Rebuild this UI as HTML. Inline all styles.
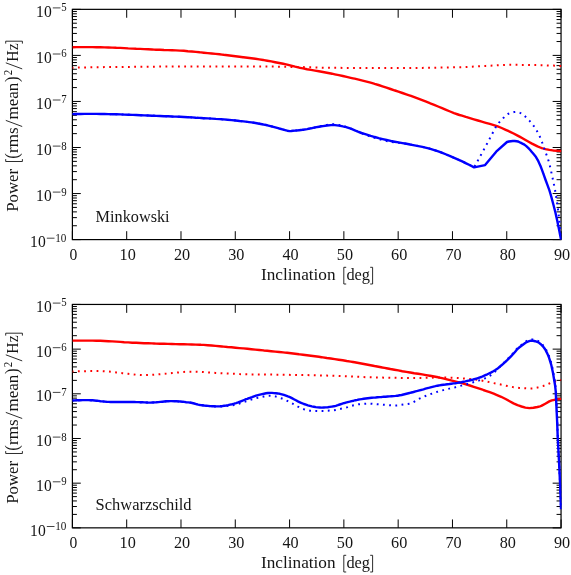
<!DOCTYPE html>
<html><head><meta charset="utf-8"><title>Power vs inclination</title>
<style>html,body{margin:0;padding:0;background:#fff;}body{width:571px;height:575px;overflow:hidden;font-family:"Liberation Serif",serif;}svg{display:block;will-change:transform;}</style></head>
<body>
<svg width="571" height="575" viewBox="0 0 571 575" font-family="'Liberation Serif', serif" fill="#151515">
<rect width="571" height="575" fill="#fff"/>
<defs>
<clipPath id="ct"><rect x="71.90" y="8.85" width="489.65" height="231.25"/></clipPath>
<clipPath id="cb"><rect x="71.90" y="303.95" width="489.65" height="224.40"/></clipPath>
</defs>
<path d="M72.40,239.6v-8.4M72.40,9.35v8.4M126.69,239.6v-8.4M126.69,9.35v8.4M180.99,239.6v-8.4M180.99,9.35v8.4M235.28,239.6v-8.4M235.28,9.35v8.4M289.58,239.6v-8.4M289.58,9.35v8.4M343.87,239.6v-8.4M343.87,9.35v8.4M398.17,239.6v-8.4M398.17,9.35v8.4M452.46,239.6v-8.4M452.46,9.35v8.4M506.76,239.6v-8.4M506.76,9.35v8.4M561.05,239.6v-8.4M561.05,9.35v8.4M72.4,9.35h8.4M561.05,9.35h-8.4M72.4,55.40h8.4M561.05,55.40h-8.4M72.4,101.45h8.4M561.05,101.45h-8.4M72.4,147.50h8.4M561.05,147.50h-8.4M72.4,193.55h8.4M561.05,193.55h-8.4M72.4,239.60h8.4M561.05,239.60h-8.4" stroke="#000" stroke-width="1.0" fill="none"/>
<path d="M72.4,41.54h4.5M561.05,41.54h-4.5M72.4,33.43h4.5M561.05,33.43h-4.5M72.4,27.68h4.5M561.05,27.68h-4.5M72.4,23.21h4.5M561.05,23.21h-4.5M72.4,19.57h4.5M561.05,19.57h-4.5M72.4,16.48h4.5M561.05,16.48h-4.5M72.4,13.81h4.5M561.05,13.81h-4.5M72.4,11.46h4.5M561.05,11.46h-4.5M72.4,87.59h4.5M561.05,87.59h-4.5M72.4,79.48h4.5M561.05,79.48h-4.5M72.4,73.73h4.5M561.05,73.73h-4.5M72.4,69.26h4.5M561.05,69.26h-4.5M72.4,65.62h4.5M561.05,65.62h-4.5M72.4,62.53h4.5M561.05,62.53h-4.5M72.4,59.86h4.5M561.05,59.86h-4.5M72.4,57.51h4.5M561.05,57.51h-4.5M72.4,133.64h4.5M561.05,133.64h-4.5M72.4,125.53h4.5M561.05,125.53h-4.5M72.4,119.78h4.5M561.05,119.78h-4.5M72.4,115.31h4.5M561.05,115.31h-4.5M72.4,111.67h4.5M561.05,111.67h-4.5M72.4,108.58h4.5M561.05,108.58h-4.5M72.4,105.91h4.5M561.05,105.91h-4.5M72.4,103.56h4.5M561.05,103.56h-4.5M72.4,179.69h4.5M561.05,179.69h-4.5M72.4,171.58h4.5M561.05,171.58h-4.5M72.4,165.83h4.5M561.05,165.83h-4.5M72.4,161.36h4.5M561.05,161.36h-4.5M72.4,157.72h4.5M561.05,157.72h-4.5M72.4,154.63h4.5M561.05,154.63h-4.5M72.4,151.96h4.5M561.05,151.96h-4.5M72.4,149.61h4.5M561.05,149.61h-4.5M72.4,225.74h4.5M561.05,225.74h-4.5M72.4,217.63h4.5M561.05,217.63h-4.5M72.4,211.88h4.5M561.05,211.88h-4.5M72.4,207.41h4.5M561.05,207.41h-4.5M72.4,203.77h4.5M561.05,203.77h-4.5M72.4,200.68h4.5M561.05,200.68h-4.5M72.4,198.01h4.5M561.05,198.01h-4.5M72.4,195.66h4.5M561.05,195.66h-4.5" stroke="#000" stroke-width="1.0" fill="none"/>
<rect x="72.4" y="9.35" width="488.65" height="230.25" fill="none" stroke="#000" stroke-width="1.2"/>
<path d="M72.6,47.2 L76.6,47.1 L80.5,47.1 L84.5,47.1 L88.5,47.1 L91.0,47.1 L92.5,47.1 L96.4,47.2 L100.4,47.2 L104.4,47.4 L108.4,47.5 L112.0,47.6 L112.3,47.6 L116.3,47.8 L120.3,47.9 L124.3,48.1 L128.2,48.4 L132.2,48.6 L133.0,48.6 L136.2,48.8 L140.1,48.9 L144.1,49.1 L148.1,49.3 L152.1,49.5 L154.0,49.6 L156.0,49.7 L160.0,49.8 L164.0,50.0 L168.0,50.1 L171.9,50.2 L175.9,50.4 L179.9,50.6 L180.0,50.6 L183.8,50.8 L187.8,51.2 L191.8,51.5 L195.8,51.9 L199.7,52.3 L201.0,52.4 L203.7,52.7 L207.7,53.1 L211.7,53.5 L215.6,53.9 L219.6,54.3 L222.0,54.6 L223.6,54.8 L227.6,55.2 L231.5,55.7 L235.5,56.2 L239.5,56.7 L243.0,57.2 L243.4,57.3 L247.4,57.8 L251.4,58.3 L255.4,58.8 L259.3,59.4 L263.3,60.0 L264.0,60.1 L267.3,60.7 L271.3,61.4 L275.2,62.2 L279.2,63.0 L283.2,63.8 L285.0,64.2 L287.2,64.7 L291.1,65.7 L295.1,66.7 L299.1,67.6 L300.0,67.8 L303.0,68.4 L307.0,69.2 L311.0,69.9 L311.0,69.9 L315.0,70.6 L318.9,71.3 L322.9,72.0 L326.9,72.7 L330.9,73.5 L332.0,73.7 L334.8,74.3 L338.8,75.1 L342.8,76.0 L346.7,76.9 L350.7,77.8 L353.0,78.3 L354.7,78.7 L358.7,79.6 L362.6,80.6 L366.6,81.6 L370.6,82.7 L374.0,83.6 L374.6,83.8 L378.5,85.0 L382.5,86.3 L386.5,87.6 L390.5,89.0 L394.4,90.3 L395.0,90.5 L398.4,91.6 L402.4,93.0 L406.3,94.3 L410.0,95.6 L410.3,95.7 L414.3,97.2 L418.3,98.7 L422.2,100.2 L426.2,101.7 L429.8,103.1 L430.2,103.3 L434.2,104.8 L438.1,106.5 L442.1,108.2 L446.1,109.9 L450.1,111.5 L454.0,113.1 L458.0,114.5 L459.5,115.0 L462.0,115.7 L465.0,116.6 L465.9,116.9 L469.9,118.1 L473.9,119.3 L477.9,120.5 L481.8,121.7 L482.5,121.9 L485.8,122.8 L489.8,123.9 L493.8,125.1 L496.2,125.9 L497.7,126.4 L501.7,128.0 L505.7,129.8 L508.8,131.2 L509.6,131.6 L513.6,133.5 L517.6,135.6 L521.0,137.4 L521.6,137.7 L525.5,140.0 L529.5,142.3 L531.5,143.4 L533.5,144.4 L537.5,146.4 L541.4,148.0 L542.0,148.2 L545.4,149.1 L549.4,149.9 L552.6,150.4 L553.4,150.5 L557.3,150.8 L561.3,151.0" fill="none" stroke="#ff0000" stroke-width="2.4" stroke-linejoin="round" clip-path="url(#ct)"/>
<path d="M72.6,67.7 L76.6,67.6 L80.5,67.5 L84.5,67.5 L88.5,67.4 L92.5,67.3 L96.4,67.2 L100.0,67.2 L100.4,67.2 L104.4,67.1 L108.4,67.1 L112.3,67.1 L116.3,67.0 L120.3,67.0 L124.2,66.9 L128.2,66.9 L132.2,66.9 L136.2,66.8 L140.0,66.8 L140.1,66.8 L144.1,66.8 L148.1,66.7 L152.0,66.7 L156.0,66.7 L160.0,66.6 L164.0,66.6 L167.9,66.6 L171.9,66.6 L175.9,66.5 L179.9,66.5 L183.8,66.5 L185.0,66.5 L187.8,66.5 L191.8,66.5 L195.7,66.5 L199.7,66.5 L203.7,66.4 L207.7,66.4 L211.6,66.4 L215.6,66.4 L219.6,66.4 L223.5,66.4 L227.5,66.4 L231.5,66.4 L235.5,66.4 L239.4,66.4 L240.0,66.4 L243.4,66.4 L247.4,66.4 L251.4,66.4 L255.3,66.5 L259.3,66.5 L263.3,66.5 L267.2,66.6 L271.2,66.6 L275.2,66.6 L279.2,66.7 L283.1,66.8 L287.1,66.8 L291.1,66.9 L295.1,66.9 L299.0,67.0 L300.0,67.0 L303.0,67.1 L307.0,67.2 L310.9,67.3 L314.9,67.4 L318.9,67.6 L322.9,67.7 L326.8,67.8 L330.0,67.8 L330.8,67.8 L334.8,67.8 L338.7,67.8 L342.7,67.9 L346.7,67.9 L350.7,67.9 L354.6,67.9 L358.6,67.9 L362.6,67.9 L366.6,68.0 L370.5,68.0 L374.5,68.0 L378.5,68.0 L382.4,68.0 L386.4,68.0 L390.4,68.0 L394.4,68.0 L398.3,68.0 L400.0,68.0 L402.3,68.0 L406.3,68.0 L410.3,68.0 L414.2,67.9 L418.2,67.9 L422.2,67.9 L426.1,67.8 L430.1,67.8 L434.1,67.7 L438.1,67.6 L442.0,67.6 L446.0,67.5 L450.0,67.4 L453.9,67.3 L457.9,67.2 L459.5,67.2 L461.9,67.1 L465.9,67.0 L469.8,66.8 L473.8,66.6 L477.8,66.3 L481.8,66.1 L485.7,65.9 L489.0,65.7 L489.7,65.7 L493.7,65.5 L497.6,65.3 L501.6,65.1 L505.6,64.9 L509.6,64.8 L513.0,64.8 L513.5,64.8 L517.5,64.8 L521.5,64.9 L525.4,64.9 L529.4,65.0 L533.4,65.1 L537.4,65.1 L540.0,65.2 L541.3,65.2 L545.3,65.3 L549.3,65.5 L553.3,65.6 L557.2,65.8 L561.2,66.0" fill="none" stroke="#ff0000" stroke-width="2.0" stroke-linejoin="round" stroke-dasharray="1.8 4.454" stroke-dashoffset="0.9" clip-path="url(#ct)"/>
<path d="M72.6,114.1 L76.6,114.0 L80.6,114.0 L84.5,113.9 L88.5,113.9 L91.0,113.9 L92.5,113.9 L96.5,113.9 L100.4,114.0 L104.4,114.0 L108.4,114.1 L112.0,114.2 L112.4,114.2 L116.3,114.3 L120.3,114.4 L124.3,114.6 L128.3,114.7 L132.2,114.9 L133.0,114.9 L136.2,115.0 L140.2,115.2 L144.2,115.4 L148.1,115.5 L152.1,115.7 L154.0,115.8 L156.1,115.9 L160.1,116.0 L164.0,116.2 L168.0,116.3 L172.0,116.5 L176.0,116.6 L179.9,116.8 L180.0,116.8 L183.9,117.0 L187.9,117.2 L191.9,117.4 L195.8,117.7 L199.8,117.9 L201.0,118.0 L203.8,118.2 L207.8,118.4 L211.7,118.6 L215.7,118.9 L219.7,119.1 L222.0,119.3 L223.7,119.4 L227.6,119.8 L231.6,120.1 L235.6,120.5 L239.6,121.0 L243.5,121.4 L247.5,121.9 L249.0,122.1 L251.5,122.4 L255.5,123.0 L259.4,123.7 L263.4,124.5 L264.0,124.6 L267.4,125.3 L271.4,126.3 L275.3,127.4 L279.0,128.4 L279.3,128.5 L283.3,129.6 L286.0,130.3 L287.3,130.7 L289.6,131.1 L291.2,131.0 L293.0,130.8 L295.2,130.6 L299.2,130.2 L302.6,129.8 L303.2,129.7 L307.1,129.1 L311.1,128.3 L315.1,127.4 L319.1,126.7 L321.5,126.3 L323.0,126.1 L327.0,125.5 L331.0,125.1 L333.0,125.0 L335.0,125.1 L338.9,125.6 L342.9,126.4 L344.6,126.7 L346.9,127.3 L350.9,128.7 L354.8,130.3 L358.8,132.0 L361.5,133.0 L362.8,133.4 L366.8,134.7 L370.7,135.9 L374.0,136.8 L374.7,137.0 L378.7,138.1 L382.7,139.1 L386.6,140.0 L390.6,140.9 L391.0,141.0 L394.6,141.7 L398.6,142.4 L402.5,143.1 L406.5,143.8 L410.0,144.5 L410.5,144.6 L414.5,145.4 L418.4,146.1 L422.4,146.9 L426.4,147.8 L429.8,148.7 L430.4,148.9 L434.3,150.1 L438.3,151.4 L442.3,152.9 L446.3,154.5 L450.2,156.2 L453.6,157.6 L454.2,157.9 L458.2,159.6 L462.2,161.4 L466.1,163.3 L470.1,165.3 L474.1,167.4 L485.1,165.1 L496.2,151.7 L507.0,142.0 L508.9,141.5 L510.9,141.2 L512.8,141.0 L514.0,141.0 L514.7,141.0 L516.7,141.3 L517.9,141.5 L518.6,141.7 L520.0,142.5 L520.5,142.7 L522.4,143.6 L523.9,144.3 L524.4,144.6 L526.3,146.1 L527.9,147.6 L528.2,147.9 L530.2,150.0 L531.8,151.9 L532.1,152.3 L534.0,154.6 L536.0,157.1 L536.9,158.6 L537.9,160.3 L539.8,164.4 L540.5,166.0 L541.7,169.2 L543.6,174.4 L543.7,174.6 L545.6,180.0 L545.6,180.0 L547.5,185.2 L549.5,190.7 L550.2,193.0 L551.4,197.1 L553.3,204.2 L555.3,212.0 L557.2,220.5 L559.1,229.7 L561.0,239.6" fill="none" stroke="#0000ff" stroke-width="2.4" stroke-linejoin="round" clip-path="url(#ct)"/>
<path d="M72.6,114.1 L76.6,114.0 L80.6,114.0 L84.5,113.9 L88.5,113.9 L91.0,113.9 L92.5,113.9 L96.5,113.9 L100.4,114.0 L104.4,114.0 L108.4,114.1 L112.0,114.2 L112.4,114.2 L116.3,114.3 L120.3,114.4 L124.3,114.6 L128.3,114.7 L132.2,114.9 L133.0,114.9 L136.2,115.0 L140.2,115.2 L144.2,115.4 L148.1,115.5 L152.1,115.7 L154.0,115.8 L156.1,115.9 L160.1,116.0 L164.0,116.2 L168.0,116.3 L172.0,116.5 L176.0,116.6 L179.9,116.8 L180.0,116.8 L183.9,117.0 L187.9,117.2 L191.9,117.4 L195.8,117.7 L199.8,117.9 L201.0,118.0 L203.8,118.2 L207.8,118.4 L211.7,118.6 L215.7,118.9 L219.7,119.1 L222.0,119.3 L223.7,119.4 L227.6,119.8 L231.6,120.1 L235.6,120.5 L239.6,121.0 L243.5,121.4 L247.5,121.9 L249.0,122.1 L251.5,122.4 L255.5,123.0 L259.4,123.7 L263.4,124.5 L264.0,124.6 L267.4,125.3 L271.4,126.3 L275.3,127.4 L279.0,128.4 L279.3,128.5 L283.3,129.6 L286.0,130.3 L287.3,130.7 L289.6,131.1 L291.2,131.0 L293.0,130.8 L295.2,130.6 L299.2,130.2 L302.6,129.8 L303.2,129.7 L307.1,129.1 L311.1,128.3 L315.1,127.4 L319.1,126.6 L321.5,126.0 L323.0,125.7 L327.0,124.9 L331.0,124.4 L333.0,124.3 L335.0,124.4 L338.9,125.0 L342.9,126.0 L344.6,126.5 L346.9,127.2 L350.9,128.7 L354.8,130.3 L358.8,132.1 L361.5,133.2 L362.8,133.7 L366.8,135.3 L370.7,136.6 L374.0,137.7 L374.7,137.9 L378.7,139.0 L382.7,140.1 L386.6,141.0 L390.6,141.7 L391.0,141.8 L394.6,142.3 L398.6,142.8 L402.5,143.2 L406.5,143.8 L410.0,144.5 L410.5,144.6 L414.5,145.4 L418.4,146.1 L422.4,146.9 L426.4,147.8 L429.8,148.7 L430.4,148.9 L434.3,150.1 L438.3,151.4 L442.3,152.9 L446.3,154.5 L450.2,156.2 L453.6,157.6 L454.2,157.9 L458.2,159.6 L462.2,161.4 L466.1,163.3 L470.1,165.3 L474.1,167.4 L485.1,147.3 L496.2,126.3 L498.2,123.7 L500.1,121.3 L502.1,119.2 L504.1,117.3 L504.4,117.0 L506.0,115.5 L508.0,114.0 L509.7,113.1 L510.0,113.0 L511.9,112.5 L513.9,112.1 L515.8,111.9 L515.9,111.9 L517.8,112.2 L519.8,112.8 L521.7,113.6 L521.9,113.7 L523.7,115.0 L525.7,116.9 L526.3,117.5 L527.6,118.8 L529.6,120.9 L530.7,122.2 L531.6,123.2 L533.5,125.7 L534.5,127.1 L535.5,128.6 L537.5,132.0 L539.4,135.8 L540.3,137.7 L541.4,140.4 L543.4,146.0 L544.7,149.9 L545.3,151.6 L547.3,156.9 L548.7,161.3 L549.3,163.3 L551.2,171.8 L552.0,175.3 L553.2,180.8 L555.2,190.7 L555.2,191.0 L557.1,202.7 L558.5,213.0 L559.1,218.2 L561.0,239.6" fill="none" stroke="#0000ff" stroke-width="2.0" stroke-linejoin="round" stroke-dasharray="1.8 4.450" stroke-dashoffset="0.9" clip-path="url(#ct)"/>
<text x="36.1" y="16.9" font-size="17.2" textLength="15.6" lengthAdjust="spacingAndGlyphs">10</text>
<path d="M52.8,7.9H60.5" stroke="#151515" stroke-width="0.8"/>
<text x="61.2" y="11.3" font-size="11.5" textLength="5.4" lengthAdjust="spacingAndGlyphs">5</text>
<text x="36.1" y="63.0" font-size="17.2" textLength="15.6" lengthAdjust="spacingAndGlyphs">10</text>
<path d="M52.8,54.0H60.5" stroke="#151515" stroke-width="0.8"/>
<text x="61.2" y="57.4" font-size="11.5" textLength="5.4" lengthAdjust="spacingAndGlyphs">6</text>
<text x="36.1" y="109.0" font-size="17.2" textLength="15.6" lengthAdjust="spacingAndGlyphs">10</text>
<path d="M52.8,100.0H60.5" stroke="#151515" stroke-width="0.8"/>
<text x="61.2" y="103.4" font-size="11.5" textLength="5.4" lengthAdjust="spacingAndGlyphs">7</text>
<text x="36.1" y="155.1" font-size="17.2" textLength="15.6" lengthAdjust="spacingAndGlyphs">10</text>
<path d="M52.8,146.1H60.5" stroke="#151515" stroke-width="0.8"/>
<text x="61.2" y="149.5" font-size="11.5" textLength="5.4" lengthAdjust="spacingAndGlyphs">8</text>
<text x="36.1" y="201.1" font-size="17.2" textLength="15.6" lengthAdjust="spacingAndGlyphs">10</text>
<path d="M52.8,192.1H60.5" stroke="#151515" stroke-width="0.8"/>
<text x="61.2" y="195.5" font-size="11.5" textLength="5.4" lengthAdjust="spacingAndGlyphs">9</text>
<text x="30.1" y="247.2" font-size="17.2" textLength="15.6" lengthAdjust="spacingAndGlyphs">10</text>
<path d="M46.8,238.2H54.5" stroke="#151515" stroke-width="0.8"/>
<text x="55.2" y="241.6" font-size="11.5" textLength="11.2" lengthAdjust="spacingAndGlyphs">10</text>
<text x="73.4" y="260.3" font-size="17.4" text-anchor="middle" textLength="7.8" lengthAdjust="spacingAndGlyphs">0</text>
<text x="127.7" y="260.3" font-size="17.4" text-anchor="middle" textLength="16.2" lengthAdjust="spacingAndGlyphs">10</text>
<text x="182.0" y="260.3" font-size="17.4" text-anchor="middle" textLength="16.2" lengthAdjust="spacingAndGlyphs">20</text>
<text x="236.3" y="260.3" font-size="17.4" text-anchor="middle" textLength="16.2" lengthAdjust="spacingAndGlyphs">30</text>
<text x="290.6" y="260.3" font-size="17.4" text-anchor="middle" textLength="16.2" lengthAdjust="spacingAndGlyphs">40</text>
<text x="344.9" y="260.3" font-size="17.4" text-anchor="middle" textLength="16.2" lengthAdjust="spacingAndGlyphs">50</text>
<text x="399.2" y="260.3" font-size="17.4" text-anchor="middle" textLength="16.2" lengthAdjust="spacingAndGlyphs">60</text>
<text x="453.5" y="260.3" font-size="17.4" text-anchor="middle" textLength="16.2" lengthAdjust="spacingAndGlyphs">70</text>
<text x="507.8" y="260.3" font-size="17.4" text-anchor="middle" textLength="16.2" lengthAdjust="spacingAndGlyphs">80</text>
<text x="562.0" y="260.3" font-size="17.4" text-anchor="middle" textLength="16.2" lengthAdjust="spacingAndGlyphs">90</text>
<g transform="translate(261,279.6)"><text x="0.0" y="0.0" font-size="17" textLength="74.6" lengthAdjust="spacingAndGlyphs">Inclination</text><text x="85.4" y="0.0" font-size="17" textLength="23.6" lengthAdjust="spacingAndGlyphs">deg</text><path d="M85.2,-12.3H82.8V4.4H85.2M109.2,-12.3H111.6V4.4H109.2" fill="none" stroke="#151515" stroke-width="0.9"/></g>
<g transform="translate(18.0,211.8) rotate(-90)"><text x="0.0" y="0.0" font-size="17" textLength="42.8" lengthAdjust="spacingAndGlyphs">Power</text><text x="53.0" y="0.4" font-size="18" textLength="5.6" lengthAdjust="spacingAndGlyphs">(</text><text x="58.9" y="0.0" font-size="17" textLength="25.4" lengthAdjust="spacingAndGlyphs">rms</text><text x="92.3" y="0.0" font-size="17" textLength="36.6" lengthAdjust="spacingAndGlyphs">mean</text><text x="129.9" y="0.4" font-size="18" textLength="5.6" lengthAdjust="spacingAndGlyphs">)</text><text x="136.6" y="-5.8" font-size="11.5" textLength="5.4" lengthAdjust="spacingAndGlyphs">2</text><text x="150.1" y="0.0" font-size="17" textLength="18.4" lengthAdjust="spacingAndGlyphs">Hz</text><path d="M52.7,-12.3H50.3V4.4H52.7M85.3,4.2L91.4,-12.2M142.9,4.2L149.0,-12.2M168.2,-12.3H170.6V4.4H168.2" fill="none" stroke="#151515" stroke-width="0.9"/></g>
<text x="95.6" y="221.8" font-size="17" textLength="74" lengthAdjust="spacingAndGlyphs">Minkowski</text>
<path d="M72.40,527.85v-8.4M72.40,304.45v8.4M126.69,527.85v-8.4M126.69,304.45v8.4M180.99,527.85v-8.4M180.99,304.45v8.4M235.28,527.85v-8.4M235.28,304.45v8.4M289.58,527.85v-8.4M289.58,304.45v8.4M343.87,527.85v-8.4M343.87,304.45v8.4M398.17,527.85v-8.4M398.17,304.45v8.4M452.46,527.85v-8.4M452.46,304.45v8.4M506.76,527.85v-8.4M506.76,304.45v8.4M561.05,527.85v-8.4M561.05,304.45v8.4M72.4,304.45h8.4M561.05,304.45h-8.4M72.4,349.13h8.4M561.05,349.13h-8.4M72.4,393.81h8.4M561.05,393.81h-8.4M72.4,438.49h8.4M561.05,438.49h-8.4M72.4,483.17h8.4M561.05,483.17h-8.4M72.4,527.85h8.4M561.05,527.85h-8.4" stroke="#000" stroke-width="1.0" fill="none"/>
<path d="M72.4,335.68h4.5M561.05,335.68h-4.5M72.4,327.81h4.5M561.05,327.81h-4.5M72.4,322.23h4.5M561.05,322.23h-4.5M72.4,317.90h4.5M561.05,317.90h-4.5M72.4,314.36h4.5M561.05,314.36h-4.5M72.4,311.37h4.5M561.05,311.37h-4.5M72.4,308.78h4.5M561.05,308.78h-4.5M72.4,306.49h4.5M561.05,306.49h-4.5M72.4,380.36h4.5M561.05,380.36h-4.5M72.4,372.49h4.5M561.05,372.49h-4.5M72.4,366.91h4.5M561.05,366.91h-4.5M72.4,362.58h4.5M561.05,362.58h-4.5M72.4,359.04h4.5M561.05,359.04h-4.5M72.4,356.05h4.5M561.05,356.05h-4.5M72.4,353.46h4.5M561.05,353.46h-4.5M72.4,351.17h4.5M561.05,351.17h-4.5M72.4,425.04h4.5M561.05,425.04h-4.5M72.4,417.17h4.5M561.05,417.17h-4.5M72.4,411.59h4.5M561.05,411.59h-4.5M72.4,407.26h4.5M561.05,407.26h-4.5M72.4,403.72h4.5M561.05,403.72h-4.5M72.4,400.73h4.5M561.05,400.73h-4.5M72.4,398.14h4.5M561.05,398.14h-4.5M72.4,395.85h4.5M561.05,395.85h-4.5M72.4,469.72h4.5M561.05,469.72h-4.5M72.4,461.85h4.5M561.05,461.85h-4.5M72.4,456.27h4.5M561.05,456.27h-4.5M72.4,451.94h4.5M561.05,451.94h-4.5M72.4,448.40h4.5M561.05,448.40h-4.5M72.4,445.41h4.5M561.05,445.41h-4.5M72.4,442.82h4.5M561.05,442.82h-4.5M72.4,440.53h4.5M561.05,440.53h-4.5M72.4,514.40h4.5M561.05,514.40h-4.5M72.4,506.53h4.5M561.05,506.53h-4.5M72.4,500.95h4.5M561.05,500.95h-4.5M72.4,496.62h4.5M561.05,496.62h-4.5M72.4,493.08h4.5M561.05,493.08h-4.5M72.4,490.09h4.5M561.05,490.09h-4.5M72.4,487.50h4.5M561.05,487.50h-4.5M72.4,485.21h4.5M561.05,485.21h-4.5" stroke="#000" stroke-width="1.0" fill="none"/>
<rect x="72.4" y="304.45" width="488.65" height="223.40" fill="none" stroke="#000" stroke-width="1.2"/>
<path d="M72.6,340.6 L76.6,340.6 L80.5,340.6 L84.5,340.6 L88.5,340.6 L91.0,340.6 L92.5,340.6 L96.4,340.7 L100.4,340.8 L104.4,341.0 L108.4,341.2 L112.0,341.4 L112.3,341.4 L116.3,341.6 L120.3,341.9 L124.2,342.2 L128.2,342.4 L132.2,342.7 L133.0,342.7 L136.2,342.8 L140.1,343.0 L144.1,343.2 L148.1,343.3 L152.0,343.4 L154.0,343.5 L156.0,343.6 L160.0,343.7 L164.0,343.8 L167.9,343.9 L171.9,344.0 L175.9,344.1 L179.9,344.2 L180.0,344.2 L183.8,344.3 L187.8,344.4 L191.8,344.5 L195.7,344.6 L199.7,344.7 L201.0,344.8 L203.7,344.9 L207.7,345.2 L211.6,345.5 L215.6,345.9 L219.6,346.3 L222.0,346.5 L223.5,346.6 L227.5,347.0 L231.5,347.3 L235.5,347.7 L239.4,348.1 L243.0,348.4 L243.4,348.4 L247.4,348.8 L251.4,349.2 L255.3,349.6 L259.3,350.0 L263.3,350.4 L264.0,350.5 L267.2,350.8 L271.2,351.2 L275.2,351.6 L279.2,352.0 L283.1,352.4 L285.0,352.6 L287.1,352.8 L291.1,353.3 L295.1,353.8 L299.0,354.3 L300.0,354.4 L303.0,354.8 L307.0,355.3 L310.9,355.8 L314.9,356.3 L318.9,356.8 L321.5,357.2 L322.9,357.4 L326.8,358.0 L330.8,358.5 L334.8,359.1 L338.7,359.7 L342.7,360.3 L346.7,361.0 L350.7,361.6 L353.0,362.0 L354.6,362.3 L358.6,363.0 L362.6,363.7 L366.6,364.5 L370.5,365.2 L374.5,366.0 L378.5,366.7 L382.4,367.5 L384.6,367.9 L386.4,368.2 L390.4,369.0 L394.4,369.7 L398.3,370.4 L402.3,371.2 L406.3,371.9 L410.0,372.5 L410.3,372.5 L414.2,373.2 L418.2,373.8 L422.2,374.4 L426.1,375.1 L429.8,375.7 L430.1,375.8 L434.1,376.5 L438.1,377.3 L442.0,378.2 L446.0,379.1 L450.0,380.1 L453.9,381.1 L457.9,382.1 L459.5,382.5 L461.9,383.2 L465.9,384.3 L469.8,385.5 L473.8,386.8 L477.8,388.1 L481.8,389.4 L483.4,390.0 L485.7,390.8 L489.7,392.2 L493.7,393.7 L497.6,395.3 L501.2,396.8 L501.6,397.0 L505.6,399.0 L509.6,401.2 L513.5,403.4 L517.5,405.2 L519.0,405.7 L521.5,406.5 L525.4,407.6 L529.4,408.1 L529.5,408.1 L533.4,407.8 L537.4,407.0 L540.0,406.3 L541.3,405.9 L545.3,403.7 L549.3,401.4 L551.8,400.4 L553.3,400.1 L557.2,399.3 L561.2,398.9" fill="none" stroke="#ff0000" stroke-width="2.4" stroke-linejoin="round" clip-path="url(#cb)"/>
<path d="M72.6,371.5 L76.6,371.4 L80.5,371.3 L84.5,371.2 L88.5,371.1 L92.5,371.1 L96.4,371.1 L100.4,371.1 L101.5,371.1 L104.4,371.2 L108.4,371.5 L112.3,371.9 L116.3,372.5 L120.3,373.0 L122.5,373.2 L124.2,373.4 L128.2,373.8 L132.2,374.3 L136.2,374.7 L140.1,375.0 L143.6,375.1 L144.1,375.1 L148.1,375.0 L152.0,374.8 L156.0,374.5 L160.0,374.2 L164.0,373.8 L164.6,373.8 L167.9,373.5 L171.9,373.1 L175.9,372.7 L179.9,372.3 L183.8,371.9 L187.8,371.7 L190.0,371.7 L191.8,371.7 L195.7,371.8 L199.7,371.9 L203.7,372.1 L207.7,372.4 L211.6,372.6 L215.6,372.9 L219.6,373.1 L222.0,373.2 L223.5,373.3 L227.5,373.5 L231.5,373.7 L235.5,373.9 L239.4,374.1 L243.0,374.2 L243.4,374.2 L247.4,374.3 L251.4,374.4 L255.3,374.4 L259.3,374.5 L263.3,374.5 L267.2,374.6 L271.2,374.6 L275.2,374.7 L279.2,374.7 L283.1,374.8 L287.1,374.8 L291.1,374.9 L295.1,374.9 L299.0,375.0 L300.0,375.0 L303.0,375.1 L307.0,375.1 L310.9,375.2 L314.9,375.3 L318.9,375.4 L322.9,375.5 L326.8,375.6 L330.8,375.7 L332.0,375.7 L334.8,375.8 L338.7,375.9 L342.7,376.1 L346.7,376.3 L350.7,376.5 L354.6,376.7 L358.6,376.8 L362.6,377.0 L366.6,377.2 L370.5,377.3 L374.0,377.4 L374.5,377.4 L378.5,377.5 L382.4,377.6 L386.4,377.7 L390.4,377.8 L394.4,377.8 L398.3,377.9 L402.3,378.0 L406.3,378.0 L410.0,378.0 L410.3,378.0 L414.2,378.0 L418.2,377.9 L422.2,377.9 L426.1,377.8 L430.1,377.7 L434.1,377.6 L438.1,377.5 L442.0,377.5 L444.7,377.5 L446.0,377.5 L450.0,377.6 L453.9,377.8 L457.9,378.0 L461.9,378.3 L465.9,378.7 L469.8,379.0 L473.8,379.4 L474.4,379.5 L477.8,379.9 L481.8,380.6 L485.7,381.4 L489.7,382.2 L493.7,383.1 L497.6,383.9 L498.2,384.0 L501.6,384.7 L505.6,385.6 L509.6,386.4 L513.5,387.2 L517.5,387.8 L519.0,387.9 L521.5,388.1 L525.4,388.3 L529.4,388.5 L531.0,388.5 L533.4,388.4 L537.4,387.6 L541.3,386.5 L542.9,386.1 L545.3,385.2 L549.3,383.5 L551.8,382.5 L553.3,382.1 L557.2,381.0 L561.2,380.1" fill="none" stroke="#ff0000" stroke-width="2.0" stroke-linejoin="round" stroke-dasharray="1.8 4.420" stroke-dashoffset="0.9" clip-path="url(#cb)"/>
<path d="M72.6,400.5 L74.6,400.4 L76.6,400.3 L78.6,400.2 L80.6,400.2 L82.6,400.1 L84.6,400.1 L86.6,400.1 L87.0,400.1 L88.5,400.1 L90.5,400.2 L92.5,400.3 L94.5,400.5 L96.5,400.7 L98.5,400.9 L100.5,401.2 L102.5,401.4 L104.5,401.6 L106.5,401.8 L108.5,401.9 L110.5,402.0 L112.0,402.0 L112.5,402.0 L114.5,402.0 L116.5,402.0 L118.5,402.0 L120.4,402.0 L122.4,402.0 L124.4,402.0 L126.4,402.0 L128.4,402.0 L130.4,402.0 L132.4,402.0 L133.0,402.0 L134.4,402.0 L136.4,402.1 L138.4,402.1 L140.4,402.2 L142.4,402.3 L144.4,402.4 L146.4,402.5 L148.4,402.6 L150.0,402.6 L150.4,402.6 L152.3,402.5 L154.3,402.4 L156.3,402.3 L158.3,402.1 L160.3,401.9 L162.3,401.7 L164.3,401.5 L166.3,401.3 L168.3,401.2 L170.3,401.1 L171.0,401.1 L172.3,401.1 L174.3,401.2 L176.3,401.3 L178.3,401.4 L180.3,401.5 L182.3,401.7 L184.2,401.9 L186.2,402.2 L188.2,402.4 L190.0,402.6 L190.2,402.6 L192.2,403.0 L194.2,403.5 L196.2,404.1 L198.2,404.6 L200.2,405.0 L201.0,405.1 L202.2,405.2 L204.2,405.5 L206.2,405.7 L208.2,405.9 L210.2,406.1 L212.2,406.2 L214.2,406.3 L216.1,406.4 L217.8,406.4 L218.1,406.4 L220.1,406.3 L222.1,406.1 L224.1,405.8 L226.1,405.5 L228.1,405.1 L230.1,404.6 L232.1,404.2 L232.5,404.1 L234.1,403.7 L236.1,403.1 L238.1,402.4 L240.1,401.6 L242.1,400.8 L244.1,400.0 L246.0,399.2 L247.3,398.8 L248.0,398.5 L250.0,397.8 L252.0,397.1 L254.0,396.3 L256.0,395.7 L258.0,395.1 L259.9,394.6 L260.0,394.6 L262.0,394.1 L264.0,393.7 L266.0,393.3 L268.0,393.0 L270.0,392.9 L270.4,392.9 L272.0,392.9 L274.0,393.1 L276.0,393.3 L277.9,393.5 L278.8,393.6 L279.9,393.8 L281.9,394.3 L283.9,394.9 L285.9,395.6 L287.9,396.4 L289.3,396.9 L289.9,397.1 L291.9,398.1 L293.9,399.2 L295.9,400.3 L297.9,401.4 L299.9,402.3 L300.5,402.6 L301.9,403.2 L303.9,404.0 L305.9,404.7 L307.9,405.4 L309.8,405.9 L311.0,406.2 L311.8,406.4 L313.8,406.7 L315.8,407.1 L317.8,407.4 L319.8,407.5 L321.5,407.6 L321.8,407.6 L323.8,407.5 L325.8,407.4 L327.8,407.2 L329.8,406.9 L331.8,406.6 L332.0,406.6 L333.8,406.3 L335.8,405.8 L337.8,405.2 L339.8,404.5 L341.7,403.8 L343.7,403.2 L344.6,403.0 L345.7,402.7 L347.7,402.2 L349.7,401.7 L351.7,401.1 L353.7,400.7 L355.7,400.2 L357.3,399.9 L357.7,399.8 L359.7,399.4 L361.7,399.1 L363.7,398.8 L365.7,398.5 L367.7,398.2 L367.8,398.2 L369.7,398.0 L371.7,397.8 L373.6,397.6 L375.6,397.5 L377.6,397.3 L379.6,397.1 L381.6,397.0 L382.5,396.9 L383.6,396.8 L385.6,396.7 L387.6,396.5 L389.6,396.4 L391.6,396.2 L393.6,396.1 L395.6,395.9 L397.2,395.7 L397.6,395.7 L399.6,395.3 L401.6,395.0 L403.5,394.5 L405.5,394.0 L407.5,393.5 L409.5,393.0 L410.0,392.9 L411.5,392.5 L413.5,392.0 L415.5,391.4 L417.5,390.9 L419.5,390.3 L420.8,390.0 L421.5,389.8 L423.5,389.3 L425.5,388.7 L427.5,388.2 L429.5,387.7 L431.5,387.1 L433.5,386.6 L435.4,386.2 L437.4,385.7 L438.7,385.5 L439.4,385.4 L441.4,385.0 L443.4,384.7 L445.4,384.5 L447.4,384.2 L449.4,384.0 L451.4,383.7 L453.4,383.4 L455.4,383.2 L457.4,382.9 L459.4,382.5 L459.5,382.5 L461.4,382.2 L463.4,381.8 L465.4,381.4 L467.3,380.9 L469.3,380.5 L471.3,380.0 L473.3,379.5 L475.3,378.9 L477.3,378.3 L478.4,378.0 L479.3,377.7 L481.3,377.0 L483.3,376.1 L485.3,375.2 L487.3,374.3 L488.5,373.7 L489.3,373.3 L491.3,372.4 L493.3,371.3 L495.0,370.3 L495.3,370.1 L497.3,368.8 L499.2,367.2 L501.2,365.5 L503.2,363.8 L504.8,362.4 L505.2,362.0 L507.2,360.2 L509.2,358.2 L511.2,356.1 L513.2,354.0 L513.4,353.8 L515.2,351.7 L517.2,349.3 L517.6,348.9 L519.2,347.5 L521.2,346.0 L522.2,345.3 L523.2,344.5 L525.2,343.0 L526.9,342.0 L527.2,341.9 L529.2,341.2 L531.1,340.7 L531.8,340.7 L533.1,340.8 L535.1,341.2 L537.1,341.9 L537.9,342.2 L539.1,342.8 L541.1,344.5 L543.1,346.6 L544.0,347.7 L545.1,349.3 L547.1,353.1 L547.7,354.4 L549.1,357.9 L551.1,364.3 L551.4,365.5 L553.1,373.5 L553.8,377.7 L555.1,385.5 L555.7,391.2 L557.1,420.7 L557.8,439.0 L559.1,463.3 L560.2,486.7 L561.0,509.3" fill="none" stroke="#0000ff" stroke-width="2.4" stroke-linejoin="round" clip-path="url(#cb)"/>
<path d="M72.6,400.5 L74.6,400.4 L76.6,400.3 L78.6,400.2 L80.6,400.2 L82.6,400.1 L84.6,400.1 L86.6,400.1 L87.0,400.1 L88.5,400.1 L90.5,400.2 L92.5,400.3 L94.5,400.5 L96.5,400.7 L98.5,400.9 L100.5,401.2 L102.5,401.4 L104.5,401.6 L106.5,401.8 L108.5,401.9 L110.5,402.0 L112.0,402.0 L112.5,402.0 L114.5,402.0 L116.5,402.0 L118.5,402.0 L120.4,402.0 L122.4,402.0 L124.4,402.0 L126.4,402.0 L128.4,402.0 L130.4,402.0 L132.4,402.0 L133.0,402.0 L134.4,402.0 L136.4,402.1 L138.4,402.1 L140.4,402.2 L142.4,402.3 L144.4,402.4 L146.4,402.5 L148.4,402.6 L150.0,402.6 L150.4,402.6 L152.3,402.5 L154.3,402.4 L156.3,402.3 L158.3,402.1 L160.3,401.9 L162.3,401.7 L164.3,401.5 L166.3,401.3 L168.3,401.2 L170.3,401.1 L171.0,401.1 L172.3,401.1 L174.3,401.2 L176.3,401.3 L178.3,401.4 L180.3,401.5 L182.3,401.7 L184.2,401.9 L186.2,402.2 L188.2,402.4 L190.0,402.6 L190.2,402.6 L192.2,403.0 L194.2,403.5 L196.2,404.0 L198.2,404.6 L200.2,405.0 L201.0,405.1 L202.2,405.3 L204.2,405.5 L206.2,405.8 L208.2,406.0 L210.2,406.2 L212.2,406.4 L214.2,406.5 L216.1,406.6 L217.8,406.6 L218.1,406.6 L220.1,406.6 L222.1,406.4 L224.1,406.3 L226.1,406.1 L228.1,405.8 L230.1,405.5 L232.1,405.3 L232.5,405.2 L234.1,404.9 L236.1,404.5 L238.1,403.9 L240.1,403.3 L242.1,402.6 L244.1,401.9 L246.0,401.3 L247.3,400.9 L248.0,400.7 L250.0,400.1 L252.0,399.4 L254.0,398.8 L256.0,398.2 L258.0,397.7 L259.9,397.3 L260.0,397.3 L262.0,396.9 L264.0,396.5 L266.0,396.1 L268.0,395.8 L270.0,395.7 L270.4,395.7 L272.0,395.8 L274.0,396.1 L276.0,396.6 L277.9,397.2 L279.9,397.9 L280.9,398.2 L281.9,398.5 L283.9,399.3 L285.9,400.2 L287.9,401.2 L289.9,402.2 L291.9,403.3 L293.5,404.1 L293.9,404.3 L295.9,405.5 L297.9,406.6 L299.9,407.6 L300.5,407.9 L301.9,408.4 L303.9,409.2 L305.9,409.8 L307.9,410.4 L309.8,410.7 L311.0,410.8 L311.8,410.8 L313.8,410.9 L315.8,410.9 L317.8,411.0 L319.8,411.0 L321.5,411.0 L321.8,411.0 L323.8,411.0 L325.8,410.9 L327.8,410.7 L329.8,410.6 L331.8,410.4 L332.0,410.4 L333.8,410.2 L335.8,409.9 L337.8,409.5 L339.8,409.0 L341.7,408.6 L343.7,408.1 L344.6,407.9 L345.7,407.6 L347.7,407.1 L349.7,406.4 L351.7,405.8 L353.7,405.2 L355.7,404.8 L357.3,404.5 L357.7,404.4 L359.7,404.2 L361.7,404.0 L363.7,403.8 L365.7,403.7 L367.7,403.6 L367.8,403.6 L369.7,403.6 L371.7,403.7 L373.6,403.9 L375.6,404.1 L377.6,404.3 L379.6,404.4 L380.4,404.5 L381.6,404.6 L383.6,404.8 L385.6,404.9 L387.6,405.1 L389.6,405.3 L391.6,405.4 L393.6,405.5 L395.0,405.5 L395.6,405.5 L397.6,405.4 L399.6,405.1 L401.6,404.8 L403.5,404.5 L403.5,404.5 L405.5,404.3 L407.5,404.0 L409.5,403.7 L410.0,403.6 L411.5,403.1 L413.5,402.2 L415.5,401.0 L417.5,399.8 L419.5,398.6 L420.8,398.0 L421.5,397.7 L423.5,396.9 L425.5,396.0 L427.5,395.3 L429.5,394.5 L431.5,393.8 L433.5,393.1 L435.4,392.4 L437.4,391.8 L438.7,391.4 L439.4,391.2 L441.4,390.6 L443.4,390.1 L445.4,389.6 L447.4,389.1 L449.4,388.6 L451.4,388.1 L453.4,387.6 L455.4,387.2 L457.4,386.7 L459.4,386.1 L459.5,386.1 L461.4,385.6 L463.4,385.1 L465.4,384.5 L467.3,384.0 L469.3,383.5 L471.3,382.9 L473.3,382.3 L475.3,381.7 L477.3,381.0 L477.4,381.0 L479.3,380.4 L481.3,379.7 L483.3,379.0 L485.3,378.2 L487.3,377.2 L489.3,376.2 L489.3,376.2 L491.3,374.9 L493.3,373.2 L495.0,371.6 L495.3,371.4 L497.3,369.5 L499.2,367.6 L501.2,365.6 L503.2,363.5 L504.8,361.9 L505.2,361.5 L507.2,359.4 L509.2,357.4 L511.2,355.3 L513.2,353.1 L513.4,352.9 L515.2,350.7 L517.2,348.4 L517.6,348.0 L519.2,346.6 L521.2,345.1 L522.2,344.3 L523.2,343.5 L525.2,341.9 L526.9,340.9 L527.2,340.8 L529.2,340.0 L531.1,339.5 L532.2,339.4 L533.1,339.5 L535.1,339.9 L537.1,340.6 L538.4,341.2 L539.1,341.6 L541.1,343.1 L543.1,345.3 L544.6,347.2 L545.1,347.9 L547.1,351.5 L548.3,354.2 L549.1,356.2 L551.1,362.4 L551.9,365.5 L553.1,371.1 L554.2,377.7 L555.1,383.1 L556.0,391.2 L557.1,415.7 L557.9,439.0 L559.1,462.7 L560.2,486.7 L561.0,509.3" fill="none" stroke="#0000ff" stroke-width="2.0" stroke-linejoin="round" stroke-dasharray="1.8 4.420" stroke-dashoffset="0.9" clip-path="url(#cb)"/>
<text x="36.1" y="312.1" font-size="17.2" textLength="15.6" lengthAdjust="spacingAndGlyphs">10</text>
<path d="M52.8,303.1H60.5" stroke="#151515" stroke-width="0.8"/>
<text x="61.2" y="306.4" font-size="11.5" textLength="5.4" lengthAdjust="spacingAndGlyphs">5</text>
<text x="36.1" y="356.7" font-size="17.2" textLength="15.6" lengthAdjust="spacingAndGlyphs">10</text>
<path d="M52.8,347.7H60.5" stroke="#151515" stroke-width="0.8"/>
<text x="61.2" y="351.1" font-size="11.5" textLength="5.4" lengthAdjust="spacingAndGlyphs">6</text>
<text x="36.1" y="401.4" font-size="17.2" textLength="15.6" lengthAdjust="spacingAndGlyphs">10</text>
<path d="M52.8,392.4H60.5" stroke="#151515" stroke-width="0.8"/>
<text x="61.2" y="395.8" font-size="11.5" textLength="5.4" lengthAdjust="spacingAndGlyphs">7</text>
<text x="36.1" y="446.1" font-size="17.2" textLength="15.6" lengthAdjust="spacingAndGlyphs">10</text>
<path d="M52.8,437.1H60.5" stroke="#151515" stroke-width="0.8"/>
<text x="61.2" y="440.5" font-size="11.5" textLength="5.4" lengthAdjust="spacingAndGlyphs">8</text>
<text x="36.1" y="490.8" font-size="17.2" textLength="15.6" lengthAdjust="spacingAndGlyphs">10</text>
<path d="M52.8,481.8H60.5" stroke="#151515" stroke-width="0.8"/>
<text x="61.2" y="485.2" font-size="11.5" textLength="5.4" lengthAdjust="spacingAndGlyphs">9</text>
<text x="30.1" y="535.5" font-size="17.2" textLength="15.6" lengthAdjust="spacingAndGlyphs">10</text>
<path d="M46.8,526.5H54.5" stroke="#151515" stroke-width="0.8"/>
<text x="55.2" y="529.9" font-size="11.5" textLength="11.2" lengthAdjust="spacingAndGlyphs">10</text>
<text x="73.4" y="548.4" font-size="17.4" text-anchor="middle" textLength="7.8" lengthAdjust="spacingAndGlyphs">0</text>
<text x="127.7" y="548.4" font-size="17.4" text-anchor="middle" textLength="16.2" lengthAdjust="spacingAndGlyphs">10</text>
<text x="182.0" y="548.4" font-size="17.4" text-anchor="middle" textLength="16.2" lengthAdjust="spacingAndGlyphs">20</text>
<text x="236.3" y="548.4" font-size="17.4" text-anchor="middle" textLength="16.2" lengthAdjust="spacingAndGlyphs">30</text>
<text x="290.6" y="548.4" font-size="17.4" text-anchor="middle" textLength="16.2" lengthAdjust="spacingAndGlyphs">40</text>
<text x="344.9" y="548.4" font-size="17.4" text-anchor="middle" textLength="16.2" lengthAdjust="spacingAndGlyphs">50</text>
<text x="399.2" y="548.4" font-size="17.4" text-anchor="middle" textLength="16.2" lengthAdjust="spacingAndGlyphs">60</text>
<text x="453.5" y="548.4" font-size="17.4" text-anchor="middle" textLength="16.2" lengthAdjust="spacingAndGlyphs">70</text>
<text x="507.8" y="548.4" font-size="17.4" text-anchor="middle" textLength="16.2" lengthAdjust="spacingAndGlyphs">80</text>
<text x="562.0" y="548.4" font-size="17.4" text-anchor="middle" textLength="16.2" lengthAdjust="spacingAndGlyphs">90</text>
<g transform="translate(261,567.6)"><text x="0.0" y="0.0" font-size="17" textLength="74.6" lengthAdjust="spacingAndGlyphs">Inclination</text><text x="85.4" y="0.0" font-size="17" textLength="23.6" lengthAdjust="spacingAndGlyphs">deg</text><path d="M85.2,-12.3H82.8V4.4H85.2M109.2,-12.3H111.6V4.4H109.2" fill="none" stroke="#151515" stroke-width="0.9"/></g>
<g transform="translate(18.0,503.8) rotate(-90)"><text x="0.0" y="0.0" font-size="17" textLength="42.8" lengthAdjust="spacingAndGlyphs">Power</text><text x="53.0" y="0.4" font-size="18" textLength="5.6" lengthAdjust="spacingAndGlyphs">(</text><text x="58.9" y="0.0" font-size="17" textLength="25.4" lengthAdjust="spacingAndGlyphs">rms</text><text x="92.3" y="0.0" font-size="17" textLength="36.6" lengthAdjust="spacingAndGlyphs">mean</text><text x="129.9" y="0.4" font-size="18" textLength="5.6" lengthAdjust="spacingAndGlyphs">)</text><text x="136.6" y="-5.8" font-size="11.5" textLength="5.4" lengthAdjust="spacingAndGlyphs">2</text><text x="150.1" y="0.0" font-size="17" textLength="18.4" lengthAdjust="spacingAndGlyphs">Hz</text><path d="M52.7,-12.3H50.3V4.4H52.7M85.3,4.2L91.4,-12.2M142.9,4.2L149.0,-12.2M168.2,-12.3H170.6V4.4H168.2" fill="none" stroke="#151515" stroke-width="0.9"/></g>
<text x="95.6" y="509.6" font-size="17" textLength="96" lengthAdjust="spacingAndGlyphs">Schwarzschild</text>
</svg>
</body></html>
